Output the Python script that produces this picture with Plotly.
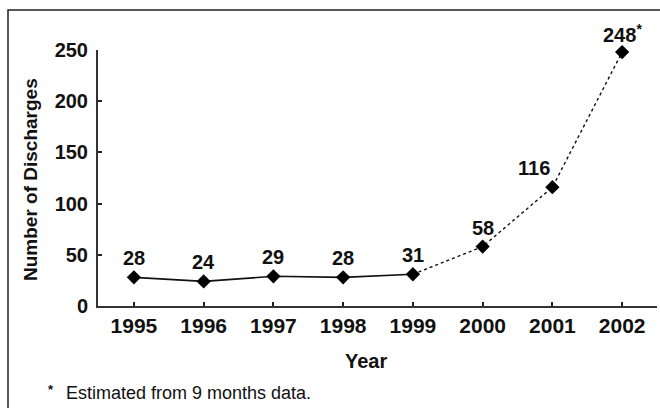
import plotly.graph_objects as go

years = [1995, 1996, 1997, 1998, 1999, 2000, 2001, 2002]
discharges = [28, 24, 29, 28, 31, 58, 116, 248]
point_labels = ["28", "24", "29", "28", "31", "58", "116", "248<sup>*</sup>"]
y_ticks = [0, 50, 100, 150, 200, 250]

FONT = "Liberation Sans, Arial, sans-serif"
split = years.index(1999)

# Plot-area geometry in pixels, used to place paper-referenced items
L, R, T, B = 98, 657, 50, 306
W, H = R - L, B - T


def px(x):
    return (x - L) / W


def py(y):
    return (B - y) / H


fig = go.Figure()
# Reported years: solid connecting line
fig.add_trace(go.Scatter(
    x=years[:split + 1], y=discharges[:split + 1], mode="lines",
    line=dict(color="#111111", width=1.6), hoverinfo="skip", showlegend=False,
    cliponaxis=False))
# Later years: dotted connecting line
fig.add_trace(go.Scatter(
    x=years[split:], y=discharges[split:], mode="lines",
    line=dict(color="#111111", width=1.4, dash="dot"), hoverinfo="skip", showlegend=False,
    cliponaxis=False))
# Diamond markers
fig.add_trace(go.Scatter(
    x=years, y=discharges, mode="markers", cliponaxis=False,
    marker=dict(symbol="diamond", size=11, color="#000000"), showlegend=False))

# Value labels above each point (2001 label sits up-left of its point)
for yr, val, txt in zip(years, discharges, point_labels):
    xs = -18 if yr == 2001 else 0
    fig.add_annotation(x=yr, y=val, text="<b>" + txt + "</b>", showarrow=False,
                       xshift=xs, yshift=19,
                       font=dict(family=FONT, size=20, color="#111111"))


def note(x, y, text, size, xanchor="center", angle=0):
    fig.add_annotation(x=px(x), y=py(y), xref="paper", yref="paper",
                       xanchor=xanchor, yanchor="middle", textangle=angle,
                       text=text, showarrow=False,
                       font=dict(family=FONT, size=size, color="#111111"))


note(366, 361, "<b>Year</b>", 20)
note(30, 180, "<b>Number of Discharges</b>", 19, angle=-90)
note(51, 389, "<b>*</b>", 13)
note(64, 393, "Estimated from 9 months data.", 18, xanchor="left")

# Outer frame
fig.add_shape(type="rect", xref="paper", yref="paper",
              x0=px(8), x1=px(663), y0=py(412), y1=py(10),
              line=dict(color="#222222", width=1.5))

fig.update_layout(
    width=660, height=408,
    margin=dict(l=L, r=660 - R, t=T, b=408 - B),
    paper_bgcolor="white", plot_bgcolor="white",
    font=dict(family=FONT, color="#111111"),
    xaxis=dict(
        range=[1994.485, 2002.5], tickmode="array", tickvals=years,
        ticktext=["<b>%d</b>" % y for y in years],
        showgrid=False, zeroline=False, showline=True, linecolor="#333333", linewidth=2,
        ticks="inside", ticklen=4, tickwidth=2, tickcolor="#222222",
        tickfont=dict(family=FONT, size=21, color="#111111")),
    yaxis=dict(
        range=[0, 250], tickmode="array", tickvals=y_ticks,
        ticktext=["<b>%d</b>" % v for v in y_ticks],
        showgrid=False, zeroline=False, showline=True, linecolor="#333333", linewidth=2,
        ticks="inside", ticklen=4, tickwidth=2, tickcolor="#222222",
        ticklabelstandoff=4,
        tickfont=dict(family=FONT, size=20, color="#111111")),
)

fig.write_html("out.html")
